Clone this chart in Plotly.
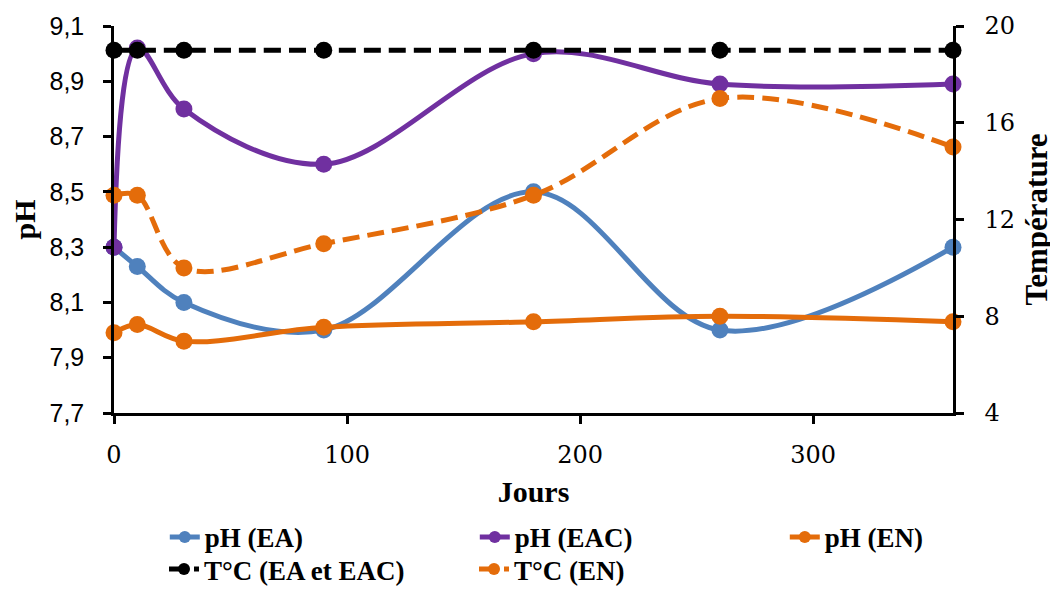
import plotly.graph_objects as go

jours = [0, 10, 30, 90, 180, 260, 360]
ph_ea = [8.30, 8.23, 8.10, 8.00, 8.50, 8.00, 8.30]
ph_eac = [8.30, 9.02, 8.80, 8.60, 9.00, 8.89, 8.89]
ph_en = [7.99, 8.02, 7.96, 8.01, 8.03, 8.05, 8.03]
t_ea_eac = [19, 19, 19, 19, 19, 19, 19]
t_en = [13, 13, 10, 11, 13, 17, 15]

BLUE = "#4f81bd"
PURPLE = "#7030a0"
ORANGE = "#e46c0a"
BLACK = "#000000"

serif = "Liberation Serif"
serif2 = "DejaVu Serif"
sans = "Liberation Sans"

fig = go.Figure()

def add(y, name, color, dash, axis, legend):
    fig.add_trace(go.Scatter(
        x=jours, y=y, name=name, yaxis=axis, mode="lines+markers", legend=legend,
        line=dict(color=color, width=5, shape="spline", smoothing=1.0, dash=dash),
        marker=dict(color=color, size=17, symbol="circle"),
        cliponaxis=False,
    ))

add(ph_ea, "pH (EA)", BLUE, "solid", "y", "legend")
add(ph_eac, "pH (EAC)", PURPLE, "solid", "y", "legend")
add(ph_en, "pH (EN)", ORANGE, "solid", "y", "legend")
add(t_ea_eac, "T°C (EA et EAC)", BLACK, "17px,8px", "y2", "legend2")
add(t_en, "T°C (EN)", ORANGE, "17px,8px", "y2", "legend2")

legend_font = dict(family=serif, size=27, color="black", weight="bold")

# page body has an 8px margin: paper starts at (8, 8)
fig.update_layout(
    width=1050, height=582,
    margin=dict(l=106, r=105, t=18, b=177, autoexpand=False),
    paper_bgcolor="white", plot_bgcolor="white",
    separators=", ",
    showlegend=True,
    xaxis=dict(
        range=[0, 360], tickvals=[0, 100, 200, 300], ticktext=["0", "100", "200", "300"],
        showgrid=False, zeroline=False, showline=True, linecolor="black", linewidth=2.5,
        ticks="outside", ticklen=8, tickwidth=2.5, tickcolor="black", ticklabelstandoff=10,
        tickfont=dict(family=serif2, size=24, color="black"),
        title=dict(text="<b>Jours</b>", font=dict(family=serif, size=30, color="black"), standoff=14),
    ),
    yaxis=dict(
        range=[7.7, 9.1], tickvals=[7.7, 7.9, 8.1, 8.3, 8.5, 8.7, 8.9, 9.1], tickformat=".1f",
        showgrid=False, zeroline=False, showline=True, linecolor="black", linewidth=2.5,
        ticks="outside", ticklen=8, tickwidth=2.5, tickcolor="black", ticklabelstandoff=14,
        tickfont=dict(family=sans, size=25, color="black"),
        title=dict(text="<b>pH</b>", font=dict(family=serif, size=30, color="black"), standoff=10),
    ),
    yaxis2=dict(
        range=[4, 20], tickvals=[4, 8, 12, 16, 20], overlaying="y", side="right",
        showgrid=False, zeroline=False, showline=True, linecolor="black", linewidth=2.5,
        ticks="outside", ticklen=8, tickwidth=2.5, tickcolor="black", ticklabelstandoff=16,
        tickfont=dict(family=serif2, size=24, color="black"),
        title=dict(text="<b>Température</b>", font=dict(family=serif, size=31, color="black"), standoff=12),
    ),
    legend=dict(
        orientation="h", x=1.169, xanchor="right", y=-0.258, yanchor="top",
        entrywidth=265, entrywidthmode="pixels",
        font=legend_font, itemsizing="constant", tracegroupgap=0, bgcolor="rgba(0,0,0,0)",
    ),
    legend2=dict(
        orientation="h", x=0.0596, xanchor="left", y=-0.341, yanchor="top",
        entrywidth=265, entrywidthmode="pixels",
        font=legend_font, itemsizing="constant", tracegroupgap=0, bgcolor="rgba(0,0,0,0)",
    ),
)

fig.write_html("out.html")
